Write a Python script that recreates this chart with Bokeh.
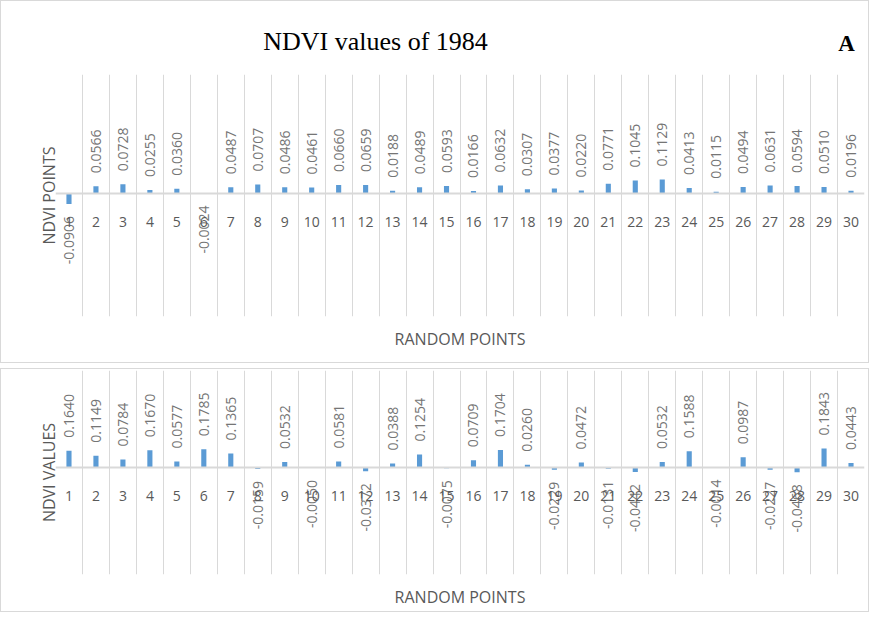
from math import pi

from bokeh.plotting import figure
from bokeh.models import (Range1d, LinearAxis, FixedTicker, ColumnDataSource, Label)
from bokeh.layouts import column
from bokeh.embed import file_html
from bokeh.resources import INLINE
from bokeh.core.properties import value

# ---------------- data ----------------
random_points = ["1", "2", "3", "4", "5", "6", "7", "8", "9", "10",
                 "11", "12", "13", "14", "15", "16", "17", "18", "19", "20",
                 "21", "22", "23", "24", "25", "26", "27", "28", "29", "30"]

ndvi_points_1984 = [-0.0906, 0.0566, 0.0728, 0.0255, 0.0360, -0.0024, 0.0487, 0.0707, 0.0486, 0.0461,
                    0.0660, 0.0659, 0.0188, 0.0489, 0.0593, 0.0166, 0.0632, 0.0307, 0.0377, 0.0220,
                    0.0771, 0.1045, 0.1129, 0.0413, 0.0115, 0.0494, 0.0631, 0.0594, 0.0510, 0.0196]

ndvi_values_b = [0.1640, 0.1149, 0.0784, 0.1670, 0.0577, 0.1785, 0.1365, -0.0159, 0.0532, -0.0050,
                 0.0581, -0.0372, 0.0388, 0.1254, -0.0075, 0.0709, 0.1704, 0.0260, -0.0229, 0.0472,
                 -0.0131, -0.0442, 0.0532, 0.1588, -0.0014, 0.0987, -0.0227, -0.0468, 0.1843, 0.0443]

title_text = "NDVI values of 1984"
panel_mark = "A"
x_title = "RANDOM POINTS"
y_title_top = "NDVI POINTS"
y_title_bottom = "NDVI VALUES"

BAR = "#5b9bd5"
GRID = "#d9d9d9"
AXIS_TXT = "#595959"
LBL_TXT = "#757575"
FONT = "Open Sans"
BORDER = "1px solid #d9d9d9"

W = 869
H_HEAD = 66


def make_panel(vals, ytitle, yr, height, top_b, bottom_b, xlab_standoff, styles):
    n = len(random_points)
    xs = list(range(1, n + 1))
    p = figure(width=W, height=height, output_backend="svg", toolbar_location=None,
               x_range=Range1d(0.5, n + 0.5), y_range=Range1d(*yr),
               min_border_left=54, min_border_right=6,
               min_border_top=top_b, min_border_bottom=bottom_b,
               styles=styles)
    p.outline_line_color = None
    p.background_fill_color = "white"
    p.border_fill_color = "white"

    # vertical gridlines between categories
    p.xgrid.ticker = FixedTicker(ticks=[x - 0.5 for x in xs] + [n + 0.5])
    p.xgrid.grid_line_color = GRID
    p.xgrid.grid_line_width = 1
    p.ygrid.visible = False

    # category axis sitting on the zero line
    ax = p.xaxis[0]
    ax.fixed_location = 0
    ax.ticker = FixedTicker(ticks=xs)
    ax.major_label_overrides = {x: lab for x, lab in zip(xs, random_points)}
    ax.axis_line_color = GRID
    ax.axis_line_width = 2
    ax.major_tick_line_color = None
    ax.minor_tick_line_color = None
    ax.major_label_standoff = 18
    ax.major_label_text_font = FONT
    ax.major_label_text_font_size = "14px"
    ax.major_label_text_color = AXIS_TXT

    # axis title below the plot area
    xt = LinearAxis(ticker=FixedTicker(ticks=[]), axis_label=x_title)
    xt.axis_line_color = None
    xt.major_tick_line_color = None
    xt.minor_tick_line_color = None
    xt.major_tick_out = 0
    xt.major_label_standoff = 0
    xt.axis_label_standoff = xlab_standoff
    xt.axis_label_text_font = FONT
    xt.axis_label_text_font_size = "16px"
    xt.axis_label_text_font_style = "normal"
    xt.axis_label_text_color = AXIS_TXT
    p.add_layout(xt, "below")

    ya = p.yaxis[0]
    ya.ticker = FixedTicker(ticks=[])
    ya.axis_line_color = None
    ya.major_tick_line_color = None
    ya.minor_tick_line_color = None
    ya.major_tick_out = 0
    ya.major_label_standoff = 0
    ya.major_label_text_font_size = "0px"
    ya.axis_label = ytitle
    ya.axis_label_standoff = -4
    ya.axis_label_text_font = FONT
    ya.axis_label_text_font_size = "16px"
    ya.axis_label_text_font_style = "normal"
    ya.axis_label_text_color = AXIS_TXT

    src = ColumnDataSource(dict(x=xs, v=vals))
    p.vbar(x="x", top="v", bottom=0, width=0.19, source=src,
           fill_color=BAR, line_color=None)

    pos = ColumnDataSource(dict(x=[x for x, v in zip(xs, vals) if v >= 0],
                                y=[v for v in vals if v >= 0],
                                t=[f"{v:.4f}" for v in vals if v >= 0]))
    neg = ColumnDataSource(dict(x=[x for x, v in zip(xs, vals) if v < 0],
                                y=[v for v in vals if v < 0],
                                t=[f"{v:.4f}" for v in vals if v < 0]))
    p.text(x="x", y="y", text="t", source=pos, angle=pi / 2,
           text_align="left", text_baseline="middle", y_offset=-13,
           text_font=value(FONT), text_font_size="14px", text_color=LBL_TXT)
    p.text(x="x", y="y", text="t", source=neg, angle=pi / 2,
           text_align="right", text_baseline="middle", y_offset=12,
           text_font=value(FONT), text_font_size="14px", text_color=LBL_TXT)
    return p


# ---------------- header (title + panel letter) ----------------
head = figure(width=W, height=H_HEAD, output_backend="svg", toolbar_location=None,
              x_range=Range1d(0, 1), y_range=Range1d(0, 1),
              x_axis_location=None, y_axis_location=None, min_border=0,
              styles={"border-top": BORDER, "border-left": BORDER, "border-right": BORDER,
                      "box-sizing": "border-box"})
head.outline_line_color = None
head.xgrid.visible = False
head.ygrid.visible = False
head.border_fill_color = "white"
head.background_fill_color = "white"
head.add_layout(Label(x=320, y=26, x_units="screen", y_units="screen", text=title_text,
                      text_align="center", text_baseline="middle",
                      text_font="Liberation Serif", text_font_size="26px",
                      text_color="#000000"))
head.add_layout(Label(x=791, y=24, x_units="screen", y_units="screen", text=panel_mark,
                      text_align="center", text_baseline="middle",
                      text_font="Liberation Serif", text_font_size="23px",
                      text_font_style="bold", text_color="#000000"))

p1 = make_panel(ndvi_points_1984, y_title_top, (-1.02, 0.98), 297, 8, 47, 11,
                {"border-bottom": BORDER, "border-left": BORDER, "border-right": BORDER,
                 "box-sizing": "border-box"})

p2 = make_panel(ndvi_values_b, y_title_bottom, (-1.05, 0.95), 244, 1, 39, 11,
                {"border": BORDER, "box-sizing": "border-box"})

layout = column(head, p1, p2, spacing=0)
layout.children[2].margin = (5, 0, 0, 0)
open("out.html", "w").write(file_html(layout, INLINE))
